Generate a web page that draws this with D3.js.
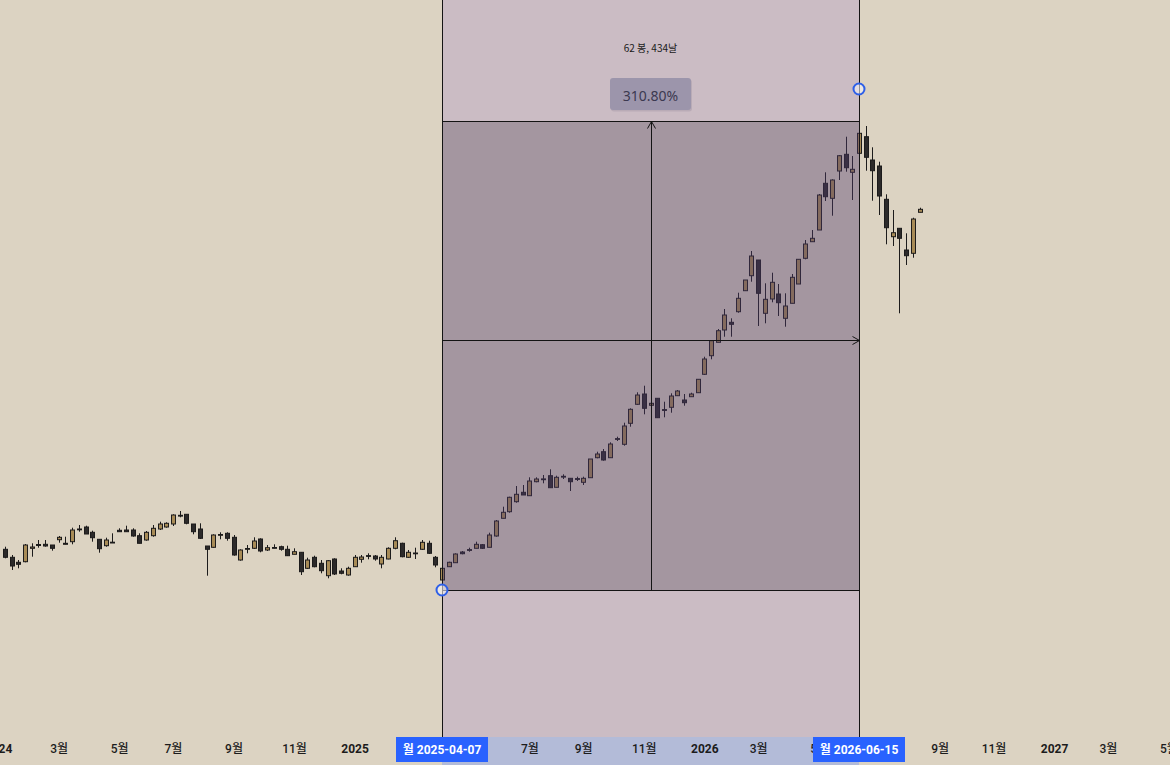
<!DOCTYPE html>
<html><head><meta charset="utf-8">
<script src="https://cdn.jsdelivr.net/npm/d3@7"></script>
<style>html,body{margin:0;padding:0;background:#dcd3c2;overflow:hidden}svg{display:block}</style>
</head><body><svg id="c" width="1170" height="765"></svg>
<script>
// ---- data (weekly candles, first bar Monday 2024-01-08) ----
const firstWeek = "2024-01-08";
const openP  = [201.9,193.9,188.9,189.5,202.9,205.7,206.9,206.2,211.5,206.9,209.5,221.4,224.2,218.9,211.9,205.5,208.2,220.9,221.2,221.2,215.5,211.2,215.5,222.2,224.2,227.2,235.9,236.9,227.2,222.2,205.2,203.9,215.9,217.9,213.9,191.2,201.9,202.9,212.2,201.2,203.7,204.5,201.9,196.9,198.9,182.9,193.9,187.9,175.5,192.2,180.2,176.2,184.5,191.9,195.6,195.2,187.2,192.2,202.9,207.9,193.9,198.2,201.9,207.9,193.9,171.2,184.5,188.5,199.2,200.8,202.9,206.5,203.9,215.2,232.9,239.5,249.5,258.9,255.5,269.5,271.5,275.5,263.9,274.1,272.9,272.6,268.9,273.5,293.5,299.5,293.5,311.8,306.9,327.9,346.9,357.2,345.9,352.9,341.6,343.9,355.5,351.2,354.5,358.5,376.9,395.5,408.9,421.2,428.9,439.5,460.5,475.5,491.2,437.9,452.2,457.2,432.9,447.9,467.2,492.9,509.5,521.2,567.9,552.9,580.2,596.9,578.9,597.9,614.5,591.2,585.2,551.9,514.5,522.9,501.2,497.9,538.9];
const highP  = [204.5,196.2,191.2,207.2,207.9,211.2,211.2,206.2,215.2,214.5,223.5,226.2,225.5,220.5,211.9,213.5,217.9,222.9,225.5,222.9,217.9,220.2,226.2,229.5,228.9,236.9,240.2,236.9,227.2,227.9,205.2,216.9,218.9,218.9,216.2,201.9,206.2,213.9,212.9,206.2,206.9,205.5,205.5,202.9,198.9,193.5,195.5,191.2,191.2,192.9,182.9,184.5,196.2,196.2,197.9,196.2,196.2,203.9,213.9,208.5,201.2,203.5,211.2,210.5,195.2,184.2,189.5,197.9,200.2,203.5,209.5,207.2,218.5,231.2,244.5,254.5,265.2,266.2,273.9,273.9,276.2,281.9,275.5,276.9,272.9,274.5,274.5,292.2,299.5,302.2,308.9,314.5,328.5,342.9,358.9,365.5,350.2,352.9,349.5,357.9,361.2,357.2,358.5,371.9,394.5,411.2,422.2,442.2,432.9,458.5,471.2,500.2,491.2,467.9,478.5,467.2,457.9,477.2,491.9,511.2,521.2,557.2,578.9,571.9,596.2,614.5,595.2,620.2,625.2,603.9,589.5,556.9,541.2,522.9,517.9,533.5,543.5];
const lowP   = [192.9,181.2,182.9,188.9,194.5,203.5,204.5,200.5,208.5,206.9,206.9,219.5,217.2,209.5,198.5,204.5,208.2,219.5,219.5,214.5,207.9,210.5,214.5,221.2,223.5,225.2,233.9,226.9,216.9,212.2,175.5,203.5,211.9,210.5,195.5,190.5,197.9,202.2,198.9,200.2,202.9,200.5,195.2,196.9,176.2,182.2,183.9,177.9,172.9,176.2,176.9,175.5,184.5,188.5,191.9,190.5,182.9,191.9,201.9,193.9,193.2,192.2,201.2,197.2,183.9,161.2,184.2,188.5,196.9,199.5,202.9,202.2,203.9,214.5,232.9,238.5,248.5,256.2,255.5,268.9,267.9,263.5,263.9,272.2,260.2,270.2,266.2,273.5,292.9,290.5,293.5,310.2,305.5,324.5,346.2,336.9,345.2,333.5,333.9,338.5,355.2,345.5,354.5,358.5,376.2,391.9,408.9,414.5,414.5,438.5,460.5,469.5,425.2,427.9,448.9,435.2,424.5,447.9,467.2,491.9,509.5,521.2,550.2,535.5,571.2,579.5,551.2,597.9,580.5,550.5,536.2,506.9,505.2,437.9,486.2,493.5,538.9];
const closeP = [193.9,185.2,186.9,206.2,204.2,206.7,205.2,202.9,213.9,207.9,221.2,222.2,217.2,213.5,202.5,211.2,209.0,219.5,219.5,215.2,207.9,218.9,222.9,227.2,227.9,236.2,235.2,227.9,219.5,212.9,201.9,216.2,216.7,212.9,196.2,201.2,202.7,210.2,200.2,203.5,203.0,201.9,195.5,199.5,179.5,191.2,184.5,180.5,190.5,177.2,177.9,182.9,193.9,194.2,194.8,192.2,193.9,202.9,210.5,194.5,198.9,197.4,208.9,197.9,186.2,182.9,188.9,197.2,197.5,201.6,206.9,202.9,216.2,230.2,238.9,253.9,256.9,256.2,270.2,272.2,272.3,263.5,273.9,274.9,269.5,271.8,272.9,292.2,297.2,291.2,307.2,312.6,325.2,341.9,356.2,342.9,347.9,333.5,340.8,355.2,360.2,348.5,357.2,371.9,392.2,410.5,420.5,436.2,426.9,452.9,471.2,495.2,457.9,451.9,468.9,448.5,445.2,473.9,491.9,507.2,512.9,556.2,554.5,571.2,595.5,583.5,581.9,617.9,593.9,580.5,555.2,523.5,518.5,512.9,495.5,532.2,541.9];

// x-axis ticks: first weekly bar of each labelled month
const tickMonths = ["2024-01","2024-03","2024-05","2024-07","2024-09","2024-11","2025-01","2025-03","2025-05","2025-07","2025-09","2025-11","2026-01","2026-03","2026-05","2026-07","2026-09","2026-11","2027-01","2027-03","2027-05"];
const tickLabels = ["2024","3월","5월","7월","9월","11월","2025","3월","5월","7월","9월","11월","2026","3월","5월","7월","9월","11월","2027","3월","5월"];

// date & price range measurement
const rangeStart = {date: "2025-04-07", price: 161.2};
const rangeEnd   = {date: "2026-06-15", price: 662.21};
const rangeBoxTop = 630.2;
const badgeLabels = ["월 2025-04-07", "월 2026-06-15"];

// ---- drawing ----
const W = 1170, H = 765, plotBottom = 737;
const parse = d3.utcParse("%Y-%m-%d");
const parseM = d3.utcParse("%Y-%m");
const d0 = parse(rangeStart.date), d1 = parse(rangeEnd.date);
const x = d3.scaleUtc().domain([d0, d1]).range([442, 859]);
const y = d3.scaleLinear().domain([rangeStart.price, rangeEnd.price]).range([590, 89]);

const start = parse(firstWeek);
const dates = d3.utcMonday.range(start, d3.utcMonday.offset(start, openP.length));
const candles = dates.map((d, i) => ({d, o: openP[i], h: highP[i], l: lowP[i], c: closeP[i]}));

const svg = d3.select("#c");
svg.append("rect").attr("width", W).attr("height", H).attr("fill", "#dcd3c2");

svg.append("defs").append("clipPath").attr("id", "plot")
  .append("rect").attr("x", 0).attr("y", 0).attr("width", W).attr("height", plotBottom);

const plot = svg.append("g").attr("clip-path", "url(#plot)");
const cg = plot.append("g");
const px = v => Math.round(v) + 0.5;
const bw = 4;

cg.selectAll("line.wick").data(candles).join("line")
  .attr("class", "wick")
  .attr("x1", d => px(x(d.d))).attr("x2", d => px(x(d.d)))
  .attr("y1", d => y(d.h)).attr("y2", d => y(d.l))
  .attr("stroke", "#1c1b1b").attr("stroke-width", 1);

cg.selectAll("rect.body").data(candles).join("rect")
  .attr("class", "body")
  .attr("x", d => px(x(d.d)) - bw / 2)
  .attr("width", bw)
  .attr("y", d => y(Math.max(d.o, d.c)))
  .attr("height", d => Math.max(0.8, Math.abs(y(d.o) - y(d.c))))
  .attr("fill", d => d.c >= d.o ? "#a88b56" : "#2c2a2a")
  .attr("stroke", "#1c1b1b").attr("stroke-width", 1);

// overlays
const xa = x(d0), xb = x(d1);
plot.append("rect").attr("x", xa).attr("y", 0).attr("width", xb - xa).attr("height", plotBottom)
  .attr("fill", "rgba(135,101,204,0.2)");
plot.append("rect").attr("x", xa).attr("y", y(rangeBoxTop)).attr("width", xb - xa)
  .attr("height", y(rangeStart.price) - y(rangeBoxTop))
  .attr("fill", "rgba(47,37,52,0.25)");

const lg = plot.append("g").attr("stroke", "#141414").attr("stroke-width", 1).attr("fill", "none");
const xA = Math.round(xa) + 0.5, xB = Math.round(xb) + 0.5;
lg.append("line").attr("x1", xA).attr("x2", xA).attr("y1", 0).attr("y2", plotBottom);
lg.append("line").attr("x1", xB).attr("x2", xB).attr("y1", 0).attr("y2", plotBottom);
const yTop = Math.round(y(rangeBoxTop)) + 0.5, yBot = Math.round(y(rangeStart.price)) + 0.5;
lg.append("line").attr("x1", xA).attr("x2", xB).attr("y1", yTop).attr("y2", yTop);
lg.append("line").attr("x1", xA).attr("x2", xB).attr("y1", yBot).attr("y2", yBot);
const yMid = Math.round(y((rangeStart.price + rangeEnd.price) / 2)) + 0.5 + 1;
lg.append("line").attr("x1", xA).attr("x2", xB).attr("y1", yMid).attr("y2", yMid);
lg.append("path").attr("d", `M${xB - 7},${yMid - 4}L${xB},${yMid}L${xB - 7},${yMid + 4}`);
const xMid = Math.round((xa + xb) / 2) + 0.5;
lg.append("line").attr("x1", xMid).attr("x2", xMid).attr("y1", yBot).attr("y2", yTop);
lg.append("path").attr("d", `M${xMid - 4},${yTop + 7}L${xMid},${yTop}L${xMid + 4},${yTop + 7}`);

// info text
const bars = d3.utcMonday.count(d0, d1);
const days = d3.utcDay.count(d0, d1);
const pct = ((rangeEnd.price - rangeStart.price) / rangeStart.price * 100).toFixed(2) + "%";
svg.append("text").attr("x", (xa + xb) / 2).attr("y", 47)
  .attr("text-anchor", "middle").attr("dominant-baseline", "central")
  .attr("font-family", "'Noto Sans CJK KR','Noto Sans',sans-serif").attr("font-size", 10)
  .attr("fill", "#1a1a1a").text(`${bars} 봉, ${days}날`);

const lbW = 81, lbH = 32, lbY = y(rangeBoxTop) - 43;
svg.append("rect").attr("x", (xa + xb) / 2 - lbW / 2 + 1).attr("y", lbY + 1.5).attr("width", lbW).attr("height", lbH)
  .attr("rx", 3).attr("fill", "rgba(60,50,80,0.12)");
svg.append("rect").attr("x", (xa + xb) / 2 - lbW / 2).attr("y", lbY).attr("width", lbW).attr("height", lbH)
  .attr("rx", 3).attr("fill", "#9c95ab");
svg.append("text").attr("x", (xa + xb) / 2).attr("y", lbY + lbH / 2 + 1)
  .attr("text-anchor", "middle").attr("dominant-baseline", "central")
  .attr("font-family", "'Noto Sans',sans-serif").attr("font-size", 14)
  .attr("fill", "#3b3950").text(pct);

// handles
svg.selectAll("circle.h").data([rangeStart, rangeEnd]).join("circle")
  .attr("class", "h")
  .attr("cx", d => x(parse(d.date))).attr("cy", d => y(d.price)).attr("r", 5.5)
  .attr("fill", "rgba(250,250,255,0.55)").attr("stroke", "#2d5fe8").attr("stroke-width", 2);

// x axis
svg.append("rect").attr("x", xa).attr("y", plotBottom).attr("width", xb - xa).attr("height", H - plotBottom)
  .attr("fill", "#b3bbd8");
const badgeHalf = 46;
const tickAll = tickMonths.map((m, i) => ({d: d3.utcMonday.ceil(parseM(m)), t: tickLabels[i]}));
// labels fully covered by the date badges are not drawn
const tickShown = tickAll.filter(t => [d0, d1].every(b => Math.abs(x(t.d) - x(b)) > badgeHalf - 8));
const axis = d3.axisBottom(x).tickValues(tickShown.map(t => t.d))
  .tickFormat((d, i) => tickShown[i].t).tickSize(0).tickPadding(7);
const ag = svg.append("g").attr("transform", `translate(0,${plotBottom})`).call(axis);
ag.select(".domain").remove();
ag.selectAll("text")
  .attr("font-family", "Roboto,'Noto Sans CJK KR',sans-serif")
  .attr("font-size", 12)
  .attr("fill", "#1c1c1c")
  .attr("font-weight", (d, i) => /^\d{4}$/.test(tickShown[i].t) ? "bold" : "500");

const badges = [d0, d1].map((d, i) => ({d, t: badgeLabels[i]}));
const bg = svg.selectAll("g.badge").data(badges).join("g").attr("class", "badge")
  .attr("transform", d => `translate(${x(d.d)},0)`);
bg.append("rect").attr("x", -badgeHalf).attr("y", 737).attr("width", badgeHalf * 2).attr("height", 25).attr("fill", "#2962ff");
bg.append("text").attr("x", 0).attr("y", 750).attr("text-anchor", "middle").attr("dominant-baseline", "central")
  .attr("font-family", "Roboto,'Noto Sans CJK KR',sans-serif").attr("font-size", 12).attr("font-weight", "bold")
  .attr("fill", "#fff").text(d => d.t);
</script>
</body></html>
